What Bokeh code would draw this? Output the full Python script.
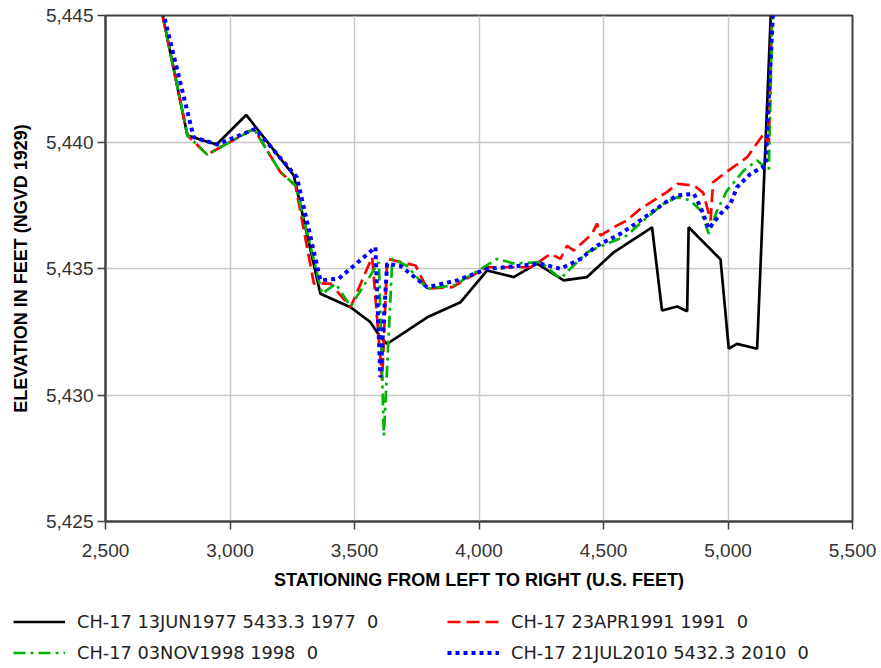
from bokeh.plotting import figure
from bokeh.models import Legend, LegendItem, NumeralTickFormatter, FixedTicker, Range1d
from bokeh.embed import file_html
from bokeh.resources import INLINE

# ---- data ----
x1977 = [2700, 2829, 2946, 3065, 3256, 3363, 3484, 3564, 3604, 3631, 3792, 3926, 4032, 4139, 4233,
         4340, 4434, 4541, 4695, 4735, 4796, 4836, 4842, 4970, 5003, 5036, 5117, 5180]
y1977 = [5446.4, 5440.26, 5439.9, 5441.07, 5438.68, 5434.0, 5433.47, 5432.88, 5432.28, 5432.02,
         5433.07, 5433.67, 5434.92, 5434.66, 5435.19, 5434.53, 5434.66, 5435.64, 5436.63, 5433.34,
         5433.5, 5433.31, 5436.63, 5435.36, 5431.83, 5432.02, 5431.83, 5447.0]

x1991 = [2700, 2829, 2908, 3096, 3203, 3263, 3337, 3404, 3484, 3571, 3611, 3631, 3745, 3792, 3892,
         4032, 4139, 4207, 4247, 4287, 4327, 4354, 4381, 4454, 4474, 4488, 4541, 4594, 4648, 4702,
         4755, 4796, 4863, 4900, 4916, 4930, 4940, 4983, 5077, 5143, 5164, 5180]
y1991 = [5446.4, 5440.26, 5439.5, 5440.52, 5438.8, 5438.28, 5434.4, 5434.4, 5433.47, 5435.45,
         5430.57, 5435.38, 5435.12, 5434.2, 5434.26, 5435.05, 5435.05, 5435.05, 5435.3, 5435.58,
         5435.38, 5435.9, 5435.71, 5436.37, 5436.77, 5436.3, 5436.63, 5436.9, 5437.36, 5437.69,
         5438.02, 5438.35, 5438.28, 5438.0, 5437.42, 5436.9, 5438.41, 5438.74, 5439.4, 5440.32,
         5439.93, 5447.0]

x1998 = [2700, 2829, 2908, 3096, 3203, 3263, 3370, 3424, 3484, 3598, 3618, 3652, 3711, 3792, 3899,
         4073, 4139, 4247, 4327, 4367, 4434, 4514, 4594, 4661, 4741, 4796, 4849, 4890, 4923, 4956,
         4996, 5063, 5117, 5164, 5182]
y1998 = [5446.4, 5440.26, 5439.5, 5440.52, 5438.8, 5438.28, 5434.0, 5434.4, 5433.5, 5435.25,
         5428.4, 5435.4, 5435.1, 5434.2, 5434.33, 5435.38, 5435.2, 5435.25, 5434.6, 5434.99,
         5435.64, 5435.98, 5436.3, 5436.9, 5437.56, 5437.82, 5437.69, 5437.29, 5436.37, 5437.29,
         5438.08, 5438.87, 5439.27, 5438.87, 5447.0]

x2010 = [2700, 2854, 2948, 3102, 3269, 3363, 3437, 3584, 3604, 3631, 3685, 3792, 3912, 4032, 4247,
         4327, 4408, 4474, 4568, 4648, 4741, 4796, 4863, 4890, 4923, 4970, 5010, 5036, 5090, 5151,
         5190]
y2010 = [5446.4, 5440.19, 5439.9, 5440.52, 5438.6, 5434.53, 5434.6, 5435.84, 5430.7, 5435.19,
         5435.1, 5434.26, 5434.53, 5434.98, 5435.19, 5434.99, 5435.38, 5435.9, 5436.37, 5436.9,
         5437.56, 5437.89, 5437.95, 5437.42, 5436.57, 5437.16, 5437.56, 5438.21, 5438.74, 5439.07,
         5447.0]

labels = ["CH-17 13JUN1977 5433.3 1977  0", "CH-17 23APR1991 1991  0",
          "CH-17 03NOV1998 1998  0", "CH-17 21JUL2010 5432.3 2010  0"]

x_ticks = [2500, 3000, 3500, 4000, 4500, 5000, 5500]
y_ticks = [5425, 5430, 5435, 5440, 5445]

xs_all = [x1977, x1991, x1998, x2010]
ys_all = [y1977, y1991, y1998, y2010]
styles = [dict(line_color="#000000", line_width=2.7),
          dict(line_color="#ff0000", line_width=2.7, line_dash="13 6"),
          dict(line_color="#00b400", line_width=2.7, line_dash="12 5 3 5"),
          dict(line_color="#0000ff", line_width=4, line_dash="4 4")]

p = figure(width=881, height=600, output_backend="svg", toolbar_location=None,
           x_range=Range1d(2500, 5500), y_range=Range1d(5425, 5445),
           min_border_left=105, min_border_right=29, min_border_top=15, min_border_bottom=79)
p.background_fill_color = "white"
p.border_fill_color = "white"
p.outline_line_color = "#404040"
p.outline_line_width = 2

for xs, ys, st in zip(xs_all, ys_all, styles):
    p.line(xs, ys, **st)

for ax in (p.xaxis[0], p.yaxis[0]):
    ax.axis_line_color = "#404040"
    ax.axis_line_width = 2
    ax.major_tick_line_color = "#404040"
    ax.major_tick_line_width = 1.5
    ax.major_tick_out = 8
    ax.major_tick_in = 0
    ax.minor_tick_line_color = None
    ax.major_label_text_font = "Liberation Sans"
    ax.major_label_text_font_size = "19px"
    ax.major_label_text_color = "#333333"
    ax.axis_label_text_font = "Liberation Sans"
    ax.axis_label_text_font_style = "bold"
    ax.axis_label_text_font_size = "18px"
    ax.axis_label_text_color = "#000000"
    ax.formatter = NumeralTickFormatter(format="0,0")

p.xaxis.ticker = FixedTicker(ticks=x_ticks)
p.yaxis.ticker = FixedTicker(ticks=y_ticks)
p.xaxis.axis_label = "STATIONING FROM LEFT TO RIGHT (U.S. FEET)"
p.yaxis.axis_label = "ELEVATION IN FEET (NGVD 1929)"
p.xaxis.major_label_standoff = 14
p.yaxis.major_label_standoff = 4
p.xaxis.axis_label_standoff = 10
p.yaxis.axis_label_standoff = 12

p.grid.grid_line_color = "#c8c8c8"
p.grid.grid_line_width = 1.5

# legend strip below the chart (series drawn again here only as legend sources, out of view)
pl = figure(width=881, height=68, output_backend="svg", toolbar_location=None,
            x_range=Range1d(2500, 5500), y_range=Range1d(0, 1), x_axis_type=None, y_axis_type=None,
            min_border=0, min_border_left=0, min_border_right=0, min_border_top=0, min_border_bottom=0)
pl.outline_line_color = None
pl.grid.visible = False
pl.background_fill_color = "white"
pl.border_fill_color = "white"
proxies = [pl.line(xs, ys, **st) for xs, ys, st in zip(xs_all, ys_all, styles)]

legend = Legend(items=[LegendItem(label=lab, renderers=[r]) for lab, r in zip(labels, proxies)],
                orientation="horizontal", ncols=2,
                location=(13, 4),
                glyph_width=52, glyph_height=23, label_height=23, label_width=362,
                label_standoff=12, spacing=8, padding=0, margin=0,
                border_line_color=None, background_fill_alpha=0,
                label_text_font="DejaVu Sans", label_text_font_size="17.8px",
                label_text_color="#222222")
pl.add_layout(legend, "center")

open("out.html", "w").write(file_html([p, pl], INLINE))
